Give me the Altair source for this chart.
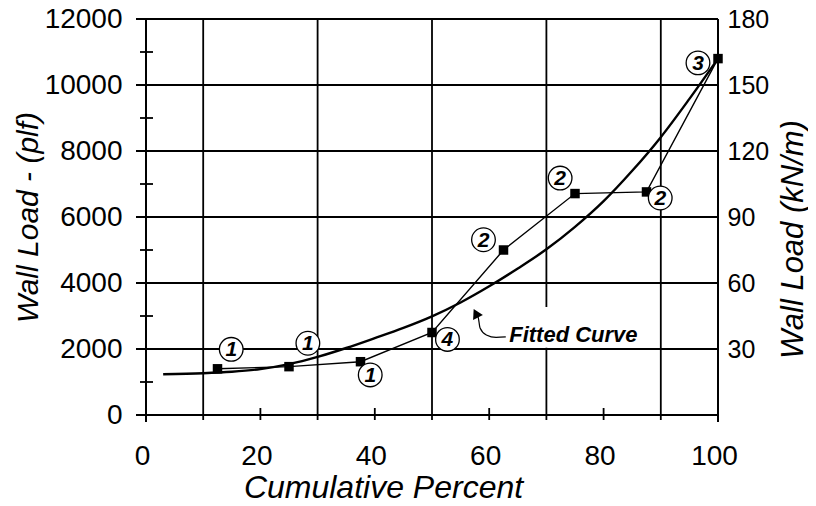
import altair as alt
import pandas as pd

FONT = "Liberation Sans"
W, H = 572, 396

# measured points (cumulative percent, wall load plf)
pct = [12.5, 25, 37.5, 50, 62.5, 75, 87.5, 100]
load = [1400, 1465, 1615, 2500, 5000, 6710, 6760, 10800]

# fitted curve
fit_pct = [3, 10, 15, 20, 25, 30, 35, 40, 45, 50, 55, 60, 65, 70, 75, 80, 85, 90, 95, 100]
fit_load = [1235, 1265, 1310, 1390, 1540, 1760, 2030, 2330, 2640, 2990, 3410, 3900, 4440, 5020,
            5700, 6480, 7400, 8420, 9580, 10800]

# circled tags
tag_text = ["1", "1", "1", "4", "2", "2", "2", "3"]
tag_pct = [14.9, 28.3, 39.2, 52.7, 59.0, 72.4, 89.9, 96.5]
tag_load = [1990, 2175, 1215, 2290, 5310, 7180, 6575, 10670]

grid_x = [10, 30, 50, 70, 90]
grid_y = [2000, 4000, 6000, 8000, 10000, 12000]
minor_x = [20, 40, 60, 80]
minor_y = [1000, 3000, 5000, 7000, 9000, 11000]
x_labels = [0, 20, 40, 60, 80, 100]
y_labels = [0, 2000, 4000, 6000, 8000, 10000, 12000]
kn_labels = [30, 60, 90, 120, 150, 180]

# annotation arrow
arrow_pct = [57.7, 58.1, 58.4, 59.5, 61.2, 62.9]
arrow_load = [3080, 2943, 2640, 2427, 2351, 2366]
head_pct = [57.66]
head_load = [3082]
note_text = ["Fitted Curve"]
note_pct = [63.5]
note_load = [2436]
box_pct = [62.0]
box_pct2 = [87.0]
box_load = [2040]
box_load2 = [3270]

xs = alt.Scale(domain=[0, 100], nice=False, zero=False)
ys = alt.Scale(domain=[0, 12000], nice=False, zero=False)

XAX = alt.Axis(values=x_labels, format="d", ticks=False, domain=False, grid=False, labelFlush=False,
               labelFont=FONT, labelFontSize=28, labelColor="black", labelPadding=27,
               labelOffset=-4, titleFont=FONT, titleFontSize=32, titleFontStyle="italic",
               titleFontWeight="normal", titleColor="black", titleX=237, titleY=72,
               titleBaseline="middle", titleAlign="center")
YAX = alt.Axis(values=y_labels, format="d", ticks=False, domain=False, grid=False, labelFlush=False,
               labelFont=FONT, labelFontSize=28, labelColor="black", labelPadding=24,
               titleFont=FONT, titleFontSize=30, titleFontStyle="italic",
               titleFontWeight="normal", titleColor="black", titleAngle=270,
               titleX=-118, titleY=198, titleBaseline="middle", titleAlign="center")


def X(f):
    return alt.X(f, type="quantitative", scale=xs, axis=XAX, title="Cumulative Percent")


def Y(f):
    return alt.Y(f, type="quantitative", scale=ys, axis=YAX, title="Wall Load - (plf)")


main_df = pd.DataFrame({"pct": pct, "load": load})
fit_df = pd.DataFrame({"pct": fit_pct, "load": fit_load})
tag_df = pd.DataFrame({"pct": tag_pct, "load": tag_load, "t": tag_text})

vgrid = alt.Chart(pd.DataFrame({"pct": grid_x})).mark_rule(color="black", strokeWidth=1.8).encode(
    x=X("pct"), y=alt.value(0), y2=alt.value(H + 5))
hgrid = alt.Chart(pd.DataFrame({"load": grid_y})).mark_rule(color="black", strokeWidth=1.8).encode(
    y=Y("load"), x=alt.value(-10), x2=alt.value(W))
box = alt.Chart(pd.DataFrame({"pct": box_pct, "b": box_pct2, "load": box_load, "d": box_load2})).mark_rect(
    color="white").encode(x=X("pct"), x2="b", y=Y("load"), y2="d")
mx = alt.Chart(pd.DataFrame({"pct": minor_x})).mark_rule(color="black", strokeWidth=1.8).encode(
    x=X("pct"), y=alt.value(H - 7), y2=alt.value(H + 5))
my = alt.Chart(pd.DataFrame({"load": minor_y})).mark_rule(color="black", strokeWidth=1.8).encode(
    y=Y("load"), x=alt.value(-6), x2=alt.value(7))
bottom = alt.Chart(pd.DataFrame({"load": [0]})).mark_rule(color="black", strokeWidth=2).encode(
    y=Y("load"), x=alt.value(-10), x2=alt.value(W))
sides = alt.Chart(pd.DataFrame({"pct": [0, 100]})).mark_rule(color="black", strokeWidth=2).encode(
    x=X("pct"), y=alt.value(0), y2=alt.value(H + 7))

fit = alt.Chart(fit_df).mark_line(color="black", strokeWidth=2.4, interpolate="monotone").encode(
    x=X("pct"), y=Y("load"), order="pct:Q")

line = alt.Chart(main_df).mark_line(color="black", strokeWidth=1.4).encode(
    x=X("pct"), y=Y("load"), order="pct:Q")

squares = alt.Chart(main_df).mark_square(color="black", size=90, opacity=1).encode(
    x=X("pct"), y=Y("load"))
circles = alt.Chart(tag_df).mark_point(shape="circle", filled=True, fill="white", stroke="black",
                                       strokeWidth=1.3, size=560, opacity=1).encode(
    x=X("pct"), y=Y("load"))
tags = alt.Chart(tag_df).mark_text(font=FONT, fontSize=21, fontWeight="bold", fontStyle="italic",
                                   color="black", baseline="middle", align="center", dy=1).encode(
    x=X("pct"), y=Y("load"), text="t:N")

arrow = alt.Chart(pd.DataFrame({"pct": arrow_pct, "load": arrow_load, "o": list(range(len(arrow_pct)))})).mark_line(
    color="black", strokeWidth=1.2, interpolate="monotone").encode(x=X("pct"), y=Y("load"), order="o:Q")
head = alt.Chart(pd.DataFrame({"pct": head_pct, "load": head_load})).mark_point(
    shape="triangle-up", filled=True, color="black", size=120, angle=333, opacity=1).encode(
    x=X("pct"), y=Y("load"))
note = alt.Chart(pd.DataFrame({"pct": note_pct, "load": note_load, "t": note_text})).mark_text(
    font=FONT, fontSize=22, fontWeight="bold", fontStyle="italic", color="black", align="left",
    baseline="middle").encode(x=X("pct"), y=Y("load"), text="t:N")

inner = alt.layer(vgrid, hgrid, box, mx, my, bottom, sides, fit, line, squares, circles, tags,
                  arrow, head, note)

right = alt.Chart(pd.DataFrame({"kn": kn_labels})).mark_point(opacity=0).encode(
    x=alt.value(0),
    y=alt.Y("kn:Q", scale=alt.Scale(domain=[0, 180], nice=False), title="Wall Load (kN/m)",
            axis=alt.Axis(orient="right", values=kn_labels, ticks=False, domain=False, grid=False,
                          labelFont=FONT, labelFontSize=25, labelColor="black", labelPadding=9,
                          titleFont=FONT, titleFontSize=31, titleFontStyle="italic",
                          titleFontWeight="normal", titleColor="black", titleAngle=270,
                          titleX=75, titleY=220, titleBaseline="middle", titleAlign="center")))

chart = alt.layer(inner, right).resolve_scale(y="independent").properties(
    width=W, height=H,
    autosize=alt.AutoSizeParams(type="none"),
    padding={"left": 138, "top": 11, "right": 90, "bottom": 88},
    background="white",
).configure_view(stroke=None)

chart.save("out.html", embed_options={"renderer": "svg", "actions": False})
